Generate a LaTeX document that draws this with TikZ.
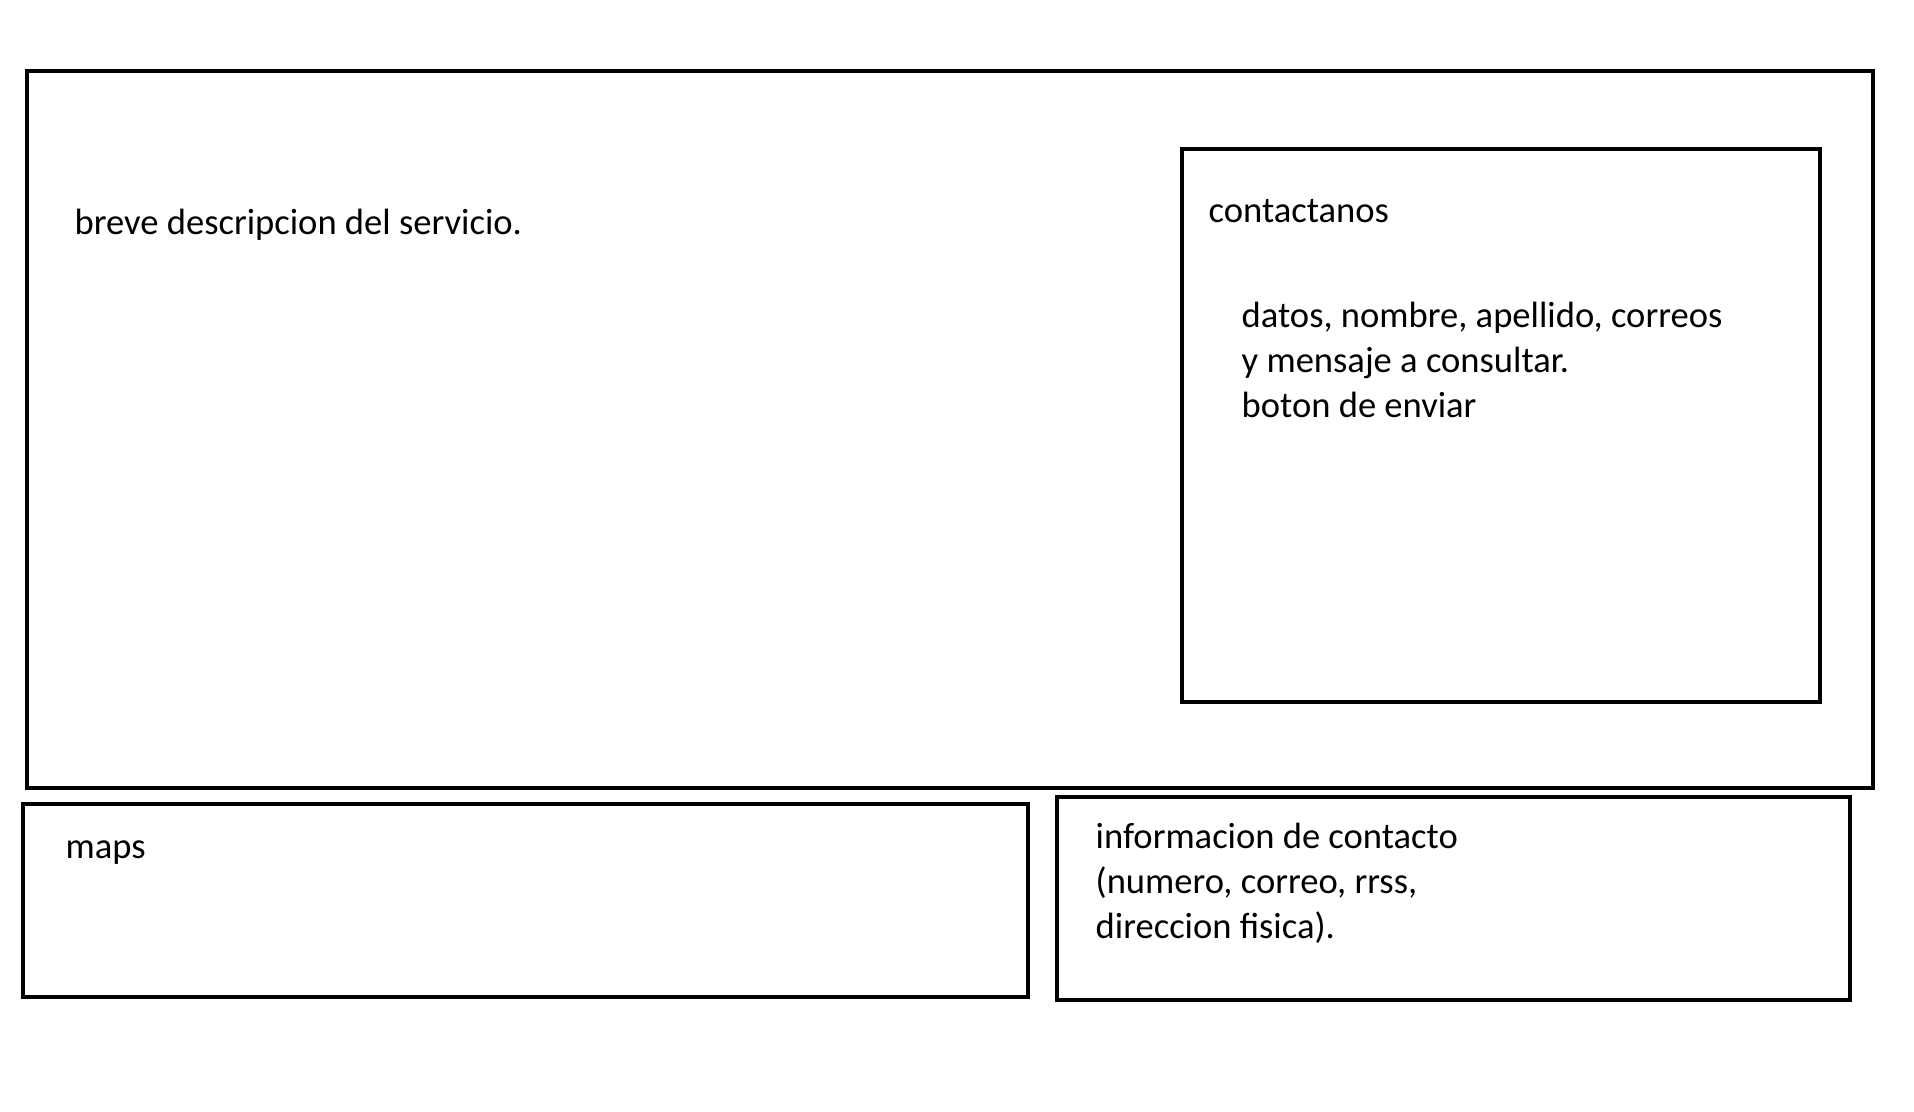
\documentclass[tikz,border=0pt]{standalone}
\usepackage{fontspec}
\setmainfont{Carlito}
\usepackage{tikz}

\tikzset{
  box/.style={draw, line width=1.3pt},
  lbl/.style={anchor=base west, inner sep=0pt, align=left,
    font=\fontsize{10.4}{12.66}\selectfont}
}

\begin{document}
\begin{tikzpicture}[x=0.01cm, y=-0.01cm]
	    \useasboundingbox (0, 0) rectangle (1914, 1112);
	    
	    \draw[box] (27, 71) rectangle (1873, 788);
	    \draw[box] (1182, 149) rectangle (1820, 702);
	    \draw[box] (23, 804) rectangle (1028, 997);
	    \draw[box] (1057, 797) rectangle (1850, 1000);
	    
	    % multi-line labels sit on the baseline of their last line
	    \node[lbl] at (74, 234) (desc) {breve descripcion del servicio.};
	    \node[lbl] at (1208, 222) (contact) {contactanos};
	    \node[lbl] at (1241, 417) (form) {datos, nombre, apellido, correos\\y mensaje a consultar.\\boton de enviar};
	    \node[lbl] at (65, 858) (maps) {maps};
	    \node[lbl] at (1095, 938) (info) {informacion de contacto\\(numero, correo, rrss,\\direccion fisica).};
	    
	    \end{tikzpicture}
\end{document}
